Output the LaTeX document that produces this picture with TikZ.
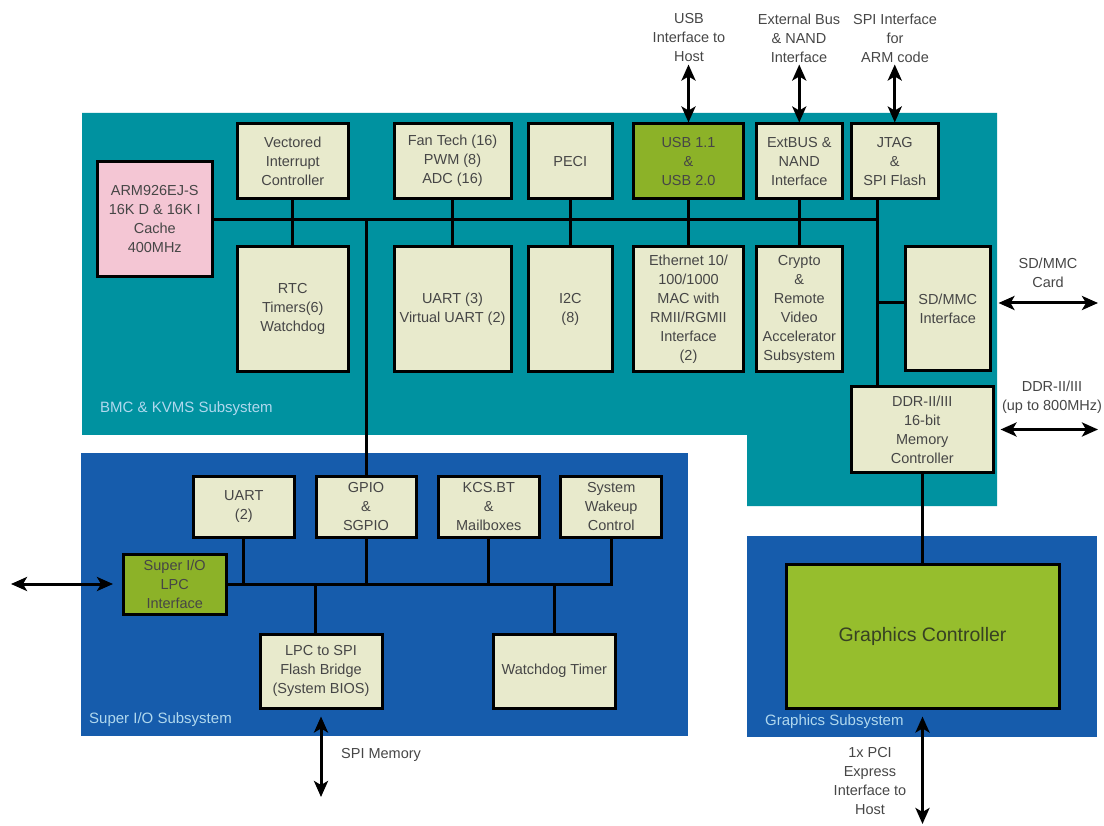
\documentclass[tikz,border=0pt]{standalone}
\usepackage{fontspec}
\setmainfont{Liberation Sans}
\usetikzlibrary{arrows.meta}

\definecolor{bmcteal}{RGB}{0,146,160}
\definecolor{sioblue}{RGB}{22,92,172}
\definecolor{boxfill}{RGB}{232,234,204}
\definecolor{armpink}{RGB}{244,198,212}
\definecolor{usbgreen}{RGB}{140,178,40}
\definecolor{gfxgreen}{RGB}{150,190,45}
\definecolor{boxtext}{RGB}{70,70,70}
\definecolor{subtext}{RGB}{176,216,238}

\tikzset{
  blk/.style={draw=black, line width=3pt, fill=boxfill, text=boxtext, align=center,
    inner sep=1pt, font=\fontsize{14.5}{19}\selectfont},
  wire/.style={line width=3pt},
  io/.style={line width=3pt,
    {Stealth[length=16pt,width=14pt,inset=4pt]}-{Stealth[length=16pt,width=14pt,inset=4pt]}},
  lbl/.style={text=boxtext, align=center, inner sep=0pt, font=\fontsize{14.5}{19}\selectfont},
  sublbl/.style={text=subtext, anchor=west, inner sep=0pt, font=\fontsize{15}{19}\selectfont},
}

\begin{document}
\begin{tikzpicture}[x=1pt, y=-1pt]
    \useasboundingbox (0,0) rectangle (1104,826);

    % Subsystem backgrounds
    \fill[bmcteal] (82,113) -- (997,113) -- (997,506) -- (747,506) -- (747,435) -- (82,435) -- cycle;
    \fill[sioblue] (81,453) rectangle (688,736);
    \fill[sioblue] (747,536) rectangle (1097,737);

    \node[sublbl] (bmclbl) at (100,409) {BMC \& KVMS Subsystem};
    \node[sublbl] (siolbl) at (89,720) {Super I/O Subsystem};
    \node[sublbl] (gfxlbl) at (765,722) {Graphics Subsystem};

    % BMC blocks, top row
    \node[blk, fill=armpink, minimum width=115.5, minimum height=115] (arm) at (154.75,219.5)
        {ARM926EJ-S\\16K D \& 16K I\\Cache\\400MHz};
    \node[blk, minimum width=110.5, minimum height=74.5] (vic) at (292.75,161.25)
        {Vectored\\Interrupt\\Controller};
    \node[blk, minimum width=117, minimum height=74.5] (fan) at (452.5,161.25)
        {Fan Tech (16)\\PWM (8)\\ADC (16)};
    \node[blk, minimum width=83.5, minimum height=74.5] (peci) at (570.3,161.25) {PECI};
    \node[blk, fill=usbgreen, minimum width=110, minimum height=74.5] (usb) at (688.5,161.25)
        {USB 1.1\\\&\\USB 2.0};
    \node[blk, minimum width=86.5, minimum height=74.5] (ext) at (799.25,161.25)
        {ExtBUS \&\\NAND\\Interface};
    \node[blk, minimum width=86.5, minimum height=74.5] (jtag) at (894.75,161.25)
        {JTAG\\\&\\SPI Flash};

    % BMC blocks, bottom row
    \node[blk, minimum width=110.5, minimum height=125] (rtc) at (292.75,309)
        {RTC\\Timers(6)\\Watchdog};
    \node[blk, minimum width=117, minimum height=125] (uart) at (452.5,309)
        {UART (3)\\Virtual UART (2)};
    \node[blk, minimum width=83.5, minimum height=125] (i2c) at (570.3,309) {I2C\\(8)};
    \node[blk, minimum width=110, minimum height=125] (eth) at (688.5,309)
        {Ethernet 10/\\100/1000\\MAC with\\RMII/RGMII\\Interface\\(2)};
    \node[blk, minimum width=86.5, minimum height=125] (crypto) at (799.25,309)
        {Crypto\\\&\\Remote\\Video\\Accelerator\\Subsystem};
    \node[blk, minimum width=84.5, minimum height=124] (sdmmc) at (947.75,309)
        {SD/MMC\\Interface};
    \node[blk, minimum width=141.5, minimum height=85] (ddr) at (922.25,429.5)
        {DDR-II/III\\16-bit\\Memory\\Controller};

    % Super I/O blocks
    \node[blk, minimum width=101.5, minimum height=61] (uart2) at (243.8,506.5) {UART\\(2)};
    \node[blk, minimum width=100, minimum height=61] (gpio) at (366,506.5) {GPIO\\\&\\SGPIO};
    \node[blk, minimum width=100.5, minimum height=61] (kcs) at (488.8,506.5)
        {KCS.BT\\\&\\Mailboxes};
    \node[blk, minimum width=101, minimum height=61] (swc) at (611.2,506.5)
        {System\\Wakeup\\Control};
    \node[blk, fill=usbgreen, minimum width=102.5, minimum height=60] (lpc) at (174.75,584)
        {Super I/O\\LPC\\Interface};
    \node[blk, minimum width=122, minimum height=74] (bridge) at (321,671)
        {LPC to SPI\\Flash Bridge\\(System BIOS)};
    \node[blk, minimum width=122.5, minimum height=74] (wdt) at (554.3,671) {Watchdog Timer};

    % Graphics block
    \node[blk, fill=gfxgreen, text={rgb,255:red,55;green,65;blue,35},
        font=\fontsize{19.5}{24}\selectfont, minimum width=273, minimum height=144]
        (gfx) at (922.5,636) {Graphics Controller};

    % BMC bus
    \coordinate (bx) at (877,219.5);
    \draw[wire] (arm.east) -- (bx);
    \draw[wire] (jtag.south -| bx) -- (ddr.north -| bx);
    \draw[wire] ([yshift=6pt]sdmmc.west -| bx) -- ([yshift=6pt]sdmmc.west);
    \draw[wire] (vic.south) -- (rtc.north);
    \draw[wire] (fan.south) -- (uart.north);
    \draw[wire] (peci.south) -- (i2c.north);
    \draw[wire] (usb.south) -- (eth.north);
    \draw[wire] (ext.south) -- (crypto.north);
    \draw[wire] (gpio.north |- arm.east) -- (gpio.north);

    % Super I/O bus
    \draw[wire] (lpc.east) -- (lpc.east -| swc.south) -- (swc.south);
    \draw[wire] (uart2.south) -- (uart2.south |- lpc.east);
    \draw[wire] (gpio.south) -- (gpio.south |- lpc.east);
    \draw[wire] (kcs.south) -- (kcs.south |- lpc.east);
    \draw[wire] ([xshift=-6pt]bridge.north) -- ([xshift=-6pt]bridge.north |- lpc.east);
    \draw[wire] (wdt.north) -- (wdt.north |- lpc.east);

    % Memory to graphics
    \draw[wire] (ddr.south) -- (ddr.south |- gfx.north);

    % External interfaces
    \coordinate (usbhost) at ([yshift=58pt]usb.north);
    \coordinate (extbus) at ([yshift=58pt]ext.north);
    \coordinate (armcode) at ([yshift=58pt]jtag.north);
    \draw[io] (usbhost) -- (usb.north);
    \draw[io] (extbus) -- (ext.north);
    \draw[io] (armcode) -- (jtag.north);
    \node[lbl] (usblbl) at (689,38) {USB\\Interface to\\Host};
    \node[lbl] (extlbl) at (799,38) {External Bus\\\& NAND\\Interface};
    \node[lbl] (jtaglbl) at (895,38) {SPI Interface\\for\\ARM code};

    \coordinate (sdcard) at (1098,303);
    \draw[io, shorten <=7pt] ([yshift=6pt]sdmmc.east) -- (sdcard);
    \node[lbl] (sdlbl) at (1048,273) {SD/MMC\\Card};
    \draw[io, shorten <=6pt] (ddr.east) -- (ddr.east -| sdcard);
    \node[lbl] (ddrlbl) at (1052,397) {DDR-II/III\\(up to 800MHz)};

    \coordinate (lpchost) at (11,584);
    \draw[io, shorten >=9pt] (lpchost) -- (lpc.west);

    \coordinate (spimem) at (321,797);
    \draw[io, shorten <=7pt] (bridge.south) -- (spimem);
    \node[lbl, anchor=west] (spilbl) at (341,755) {SPI Memory};

    \coordinate (pcihost) at (922,824);
    \draw[io, shorten <=7pt] (gfx.south) -- (gfx.south |- pcihost);
    \node[lbl] (pcilbl) at (870,781) {1x PCI\\Express\\Interface to\\Host};
\end{tikzpicture}
\end{document}
